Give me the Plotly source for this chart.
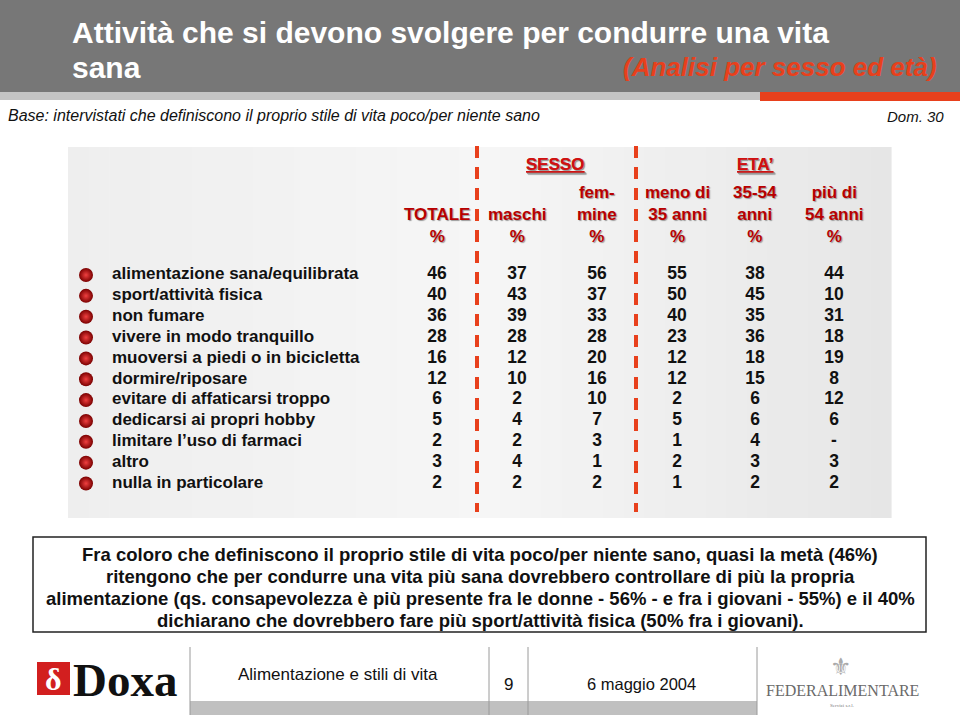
import plotly.graph_objects as go

# ---------------- data ----------------
activities = [
    "alimentazione sana/equilibrata",
    "sport/attività fisica",
    "non fumare",
    "vivere in modo tranquillo",
    "muoversi a piedi o in bicicletta",
    "dormire/riposare",
    "evitare di affaticarsi troppo",
    "dedicarsi ai propri hobby",
    "limitare l\u2019uso di farmaci",
    "altro",
    "nulla in particolare",
]
totale = [46, 40, 36, 28, 16, 12, 6, 5, 2, 3, 2]
maschi = [37, 43, 39, 28, 12, 10, 2, 4, 2, 4, 2]
femmine = [56, 37, 33, 28, 20, 16, 10, 7, 3, 1, 2]
meno_35 = [55, 50, 40, 23, 12, 12, 2, 5, 1, 2, 1]
eta_35_54 = [38, 45, 35, 36, 18, 15, 6, 6, 4, 3, 2]
piu_54 = [44, 10, 31, 18, 19, 8, 12, 6, None, 3, 2]

column_headers = ["TOTALE<br>%", "maschi<br>%", "fem-<br>mine<br>%",
                  "meno di<br>35 anni<br>%", "35-54<br>anni<br>%", "più di<br>54 anni<br>%"]
group_labels = ["SESSO", "ETA\u2019"]

title_line1 = "Attività che si devono svolgere per condurre una vita"
title_line2 = "sana"
title_sub = "(Analisi per sesso ed età)"
base_text = "Base: intervistati che definiscono il proprio stile di vita poco/per niente sano"
dom_text = "Dom. 30"
note_lines = [
    "Fra coloro che definiscono il proprio stile di vita poco/per niente sano, quasi la metà (46%)",
    "ritengono che per condurre una vita più sana dovrebbero controllare di più la propria",
    "alimentazione (qs. consapevolezza è più presente fra le donne - 56% - e fra i giovani - 55%) e il 40%",
    "dichiarano che dovrebbero fare più sport/attività fisica (50% fra i giovani).",
]
footer_title = "Alimentazione e stili di vita"
footer_page = "9"
footer_date = "6 maggio 2004"

# ---------------- layout constants ----------------
W, H = 960, 715
RED = "#e8401c"
DARKRED = "#b80000"
FONT = "Liberation Sans, Arial, sans-serif"

row_y0, row_step = 275, 20.85
row_y = [row_y0 + i * row_step for i in range(len(activities))]
col_x = [437, 517, 597, 677, 755, 834]
bullet_x, label_x = 86, 112

fig = go.Figure()

# bullets
fig.add_trace(go.Scatter(
    x=[bullet_x] * len(activities), y=row_y, mode="markers",
    marker=dict(size=14, color="#7a0000", gradient=dict(type="radial", color="#f04040"),
                line=dict(width=0)),
    hoverinfo="skip", showlegend=False))
# labels
fig.add_trace(go.Scatter(
    x=[label_x] * len(activities), y=row_y, mode="text", text=activities,
    textposition="middle right",
    textfont=dict(family=FONT, size=17, color="#111111", weight="bold"),
    hoverinfo="skip", showlegend=False))
# values
for cx, vals in zip(col_x, [totale, maschi, femmine, meno_35, eta_35_54, piu_54]):
    fig.add_trace(go.Scatter(
        x=[cx] * len(vals), y=row_y, mode="text",
        text=["-" if v is None else str(v) for v in vals],
        textposition="middle center",
        textfont=dict(family=FONT, size=17.5, color="#111111", weight="bold"),
        hoverinfo="skip", showlegend=False))

shapes = []
# header band
shapes.append(dict(type="rect", x0=0, x1=W, y0=0, y1=92, fillcolor="#777777", line_width=0, layer="below"))
shapes.append(dict(type="rect", x0=0, x1=760, y0=92, y1=100, fillcolor="#c4c4c4", line_width=0, layer="below"))
shapes.append(dict(type="rect", x0=760, x1=W, y0=92, y1=101, fillcolor=RED, line_width=0, layer="below"))
# table background: horizontal light-grey gradient built from thin strips
bg_x0, bg_x1, n_strips = 68, 891, 40
strip_w = (bg_x1 - bg_x0) / n_strips
for i in range(n_strips):
    t = (i + 0.5) / n_strips
    # lighter towards the middle-left, darker to the right
    if t < 0.5:
        g = 238 + (246 - 238) * (t / 0.5)
    else:
        g = 246 - (246 - 230) * ((t - 0.5) / 0.5)
    g = int(round(g))
    shapes.append(dict(type="rect", x0=bg_x0 + i * strip_w, x1=bg_x0 + (i + 1) * strip_w + 0.6,
                       y0=147, y1=518, fillcolor=f"rgb({g},{g},{g})", line_width=0, layer="below"))
# dashed separators
for dx in (477, 636):
    shapes.append(dict(type="line", x0=dx, x1=dx, y0=146, y1=512,
                       line=dict(color=RED, width=4, dash="12px,9px")))
# note box
shapes.append(dict(type="rect", x0=33, x1=926, y0=537, y1=632, fillcolor="white",
                   line=dict(color="#222222", width=1.5)))
# footer
shapes.append(dict(type="rect", x0=190, x1=757, y0=701, y1=H, fillcolor="#c0c0c0", line_width=0, layer="below"))
for fx in (190, 489, 528, 757):
    shapes.append(dict(type="line", x0=fx, x1=fx, y0=647, y1=H, line=dict(color="#9a9a9a", width=1)))
# doxa logo square
shapes.append(dict(type="rect", x0=37, x1=70, y0=662, y1=695, fillcolor="#d21f1f", line_width=0))

ann = []
def A(x, y, text, size, color="#111111", family=FONT, xanchor="center", weight="normal",
      style="normal", shadow=None, yanchor="middle"):
    f = dict(family=family, size=size, color=color, weight=weight, style=style)
    if shadow:
        f["shadow"] = shadow
    ann.append(dict(x=x, y=y, xref="x", yref="y", text=text, showarrow=False,
                    xanchor=xanchor, yanchor=yanchor, font=f))

A(70, 32, title_line1, 30, "white", FONT, "left", "bold")
A(70, 67, title_line2, 30, "white", FONT, "left", "bold")
A(939, 67, title_sub, 26, RED, FONT, "right", "bold", "italic")
A(6, 115, base_text, 16, "#111111", FONT, "left", style="italic")
A(946, 116, dom_text, 15, "#111111", FONT, "right", style="italic")

# group labels
A(555, 164, "<u>" + group_labels[0] + "</u>", 17, "#d01010", FONT, weight="bold", shadow="1px 1px 1px #999")
A(755, 164, "<u>" + group_labels[1] + "</u>", 17, "#d01010", FONT, weight="bold", shadow="1px 1px 1px #999")
# column headers (bottom-aligned at %)
for cx, hdr in zip(col_x, column_headers):
    A(cx, 248, hdr, 17, DARKRED, FONT, weight="bold", shadow="1px 1px 1px #999", yanchor="bottom")

# note text
for i, line in enumerate(note_lines):
    A(480, 554 + i * 22.2, line, 18.5, "#111111", FONT, weight="bold")

# footer
A(53.5, 679, "\u03b4", 32, "white", "Liberation Serif, serif", weight="bold")
A(71, 680, "Doxa", 47, "#111111", "Liberation Serif, DejaVu Serif, serif", "left", "bold")
A(338, 674, footer_title, 17, "#111111", FONT)
A(508, 684, footer_page, 17, "#111111", FONT)
A(641, 684, footer_date, 16.5, "#111111", FONT)
A(842, 690, "FEDERALIMENTARE", 16, "#6a6a6a", "Liberation Serif, serif")
A(842, 705, "Servizi s.r.l.", 5, "#777777", "Liberation Serif, serif")
A(841, 667, "\u269c", 24, "#aaaaaa", "DejaVu Sans, sans-serif")

fig.update_layout(
    width=W, height=H, margin=dict(l=0, r=0, t=0, b=0),
    paper_bgcolor="white", plot_bgcolor="white",
    xaxis=dict(range=[0, W], visible=False, fixedrange=True),
    yaxis=dict(range=[H, 0], visible=False, fixedrange=True),
    shapes=shapes, annotations=ann, showlegend=False,
)
fig.write_html("out.html", config={"displayModeBar": False},
               post_script="document.body.style.margin='0';")
